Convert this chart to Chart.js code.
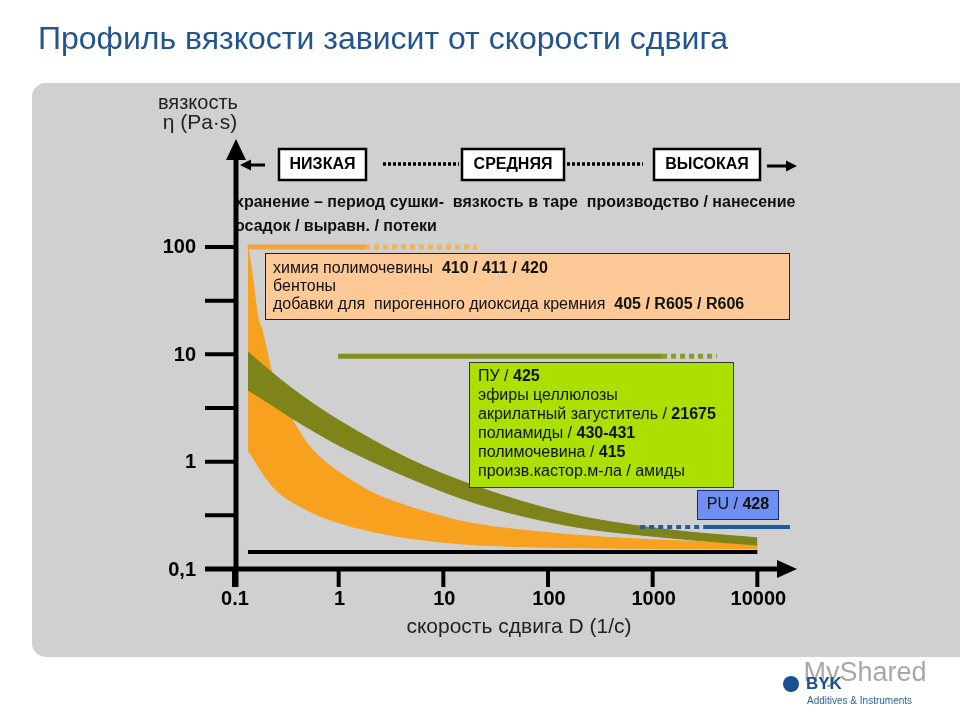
<!DOCTYPE html>
<html>
<head>
<meta charset="utf-8">
<script src="https://cdn.jsdelivr.net/npm/chart.js@4.4.0/dist/chart.umd.min.js"></script>
<style>
  html, body { margin: 0; padding: 0; background: #fff; }
  #wrap { position: relative; width: 960px; height: 720px; overflow: hidden; }
  #title { position: absolute; left: 38px; top: 20px; font: 32px "Liberation Sans", Arial, sans-serif; color: #22558f; white-space: nowrap; }
  canvas { position: absolute; left: 0; top: 0; }
</style>
</head>
<body>
<div id="wrap">
  <canvas id="canvas" width="960" height="720"></canvas>
  <div id="title">Профиль вязкости зависит от скорости сдвига</div>
</div>
<script>
var FONT = '"Liberation Sans", Arial, sans-serif';

// axes: shear rate D (1/s) and viscosity (Pa·s), both log
var xTicks = [0.1, 1, 10, 100, 1000, 10000];
var xTickLabels = ['0.1', '1', '10', '100', '1000', '10000'];
var yTicks = [0.1, 1, 10, 100];
var yTickLabels = ['0,1', '1', '10', '100'];
var yHalfTicks = [0.316, 3.16, 31.6];

// orange band (polyurea / bentone / fumed silica additives)
var orangeTopX = [0.136, 0.149, 0.170, 0.185, 0.231, 0.307, 0.498, 0.709, 1.03, 2.13, 4.50, 9.30, 20.1, 104.5, 314, 2835, 10000];
var orangeTopY = [102, 55, 21.8, 16.9, 6.70, 3.37, 1.49, 1.04, 0.784, 0.511, 0.386, 0.312, 0.263, 0.217, 0.199, 0.179, 0.171];
var orangeBottomX = [0.136, 0.236, 0.498, 1.03, 3.09, 9.30, 22.4, 314, 10000];
var orangeBottomY = [1.28, 0.581, 0.355, 0.268, 0.207, 0.179, 0.167, 0.157, 0.154];

// olive band (PU / cellulose / acrylic thickeners)
var oliveX = [0.136, 0.221, 0.343, 0.594, 1.03, 4.50, 20.1, 162, 1465, 10000];
var oliveTopY = [10.5, 7.0, 4.96, 3.37, 2.39, 1.08, 0.593, 0.325, 0.231, 0.195];
var oliveBottomY = [4.65, 3.45, 2.61, 1.89, 1.40, 0.720, 0.412, 0.252, 0.195, 0.167];

// working ranges: [start, end of solid/dotted part, end]
var orangeRangeX = [0.136, 1.79, 21];
var orangeRangeY = 100;
var oliveRangeX = [0.99, 1230, 4100];
var oliveRangeY = 9.6;
var blueRangeX = [760, 3380, 20500];   // dotted first, then solid
var blueRangeY = 0.246;
var baseX = [0.136, 10000];
var baseY = 0.144;

function toPoints(xs, ys) {
  return xs.map(function (x, i) { return { x: x, y: ys[i] }; });
}
function flat(xs, y) {
  return xs.map(function (x) { return { x: x, y: y }; });
}

function rich(ctx, x, y, parts, size) {
  parts.forEach(function (p) {
    ctx.font = (p[1] ? 'bold ' : '') + size + 'px ' + FONT;
    ctx.fillText(p[0], x, y);
    x += ctx.measureText(p[0]).width;
  });
}
function richWidth(ctx, parts, size) {
  var w = 0;
  parts.forEach(function (p) {
    ctx.font = (p[1] ? 'bold ' : '') + size + 'px ' + FONT;
    w += ctx.measureText(p[0]).width;
  });
  return w;
}

var panelPlugin = {
  id: 'panel',
  beforeDraw: function (chart) {
    var ctx = chart.ctx;
    ctx.save();
    ctx.fillStyle = '#d0d0d0';
    ctx.beginPath();
    ctx.roundRect(32, 83, 960, 574, 14);
    ctx.fill();
    ctx.restore();
  }
};

var decorPlugin = {
  id: 'decor',
  afterDatasetsDraw: function (chart) {
    var ctx = chart.ctx;
    var xs = chart.scales.x, ys = chart.scales.y;
    ctx.save();
    ctx.textBaseline = 'middle';

    // y title
    ctx.fillStyle = '#222';
    ctx.textAlign = 'center';
    ctx.font = '20px ' + FONT;
    ctx.fillText('вязкость', 198, 103);
    ctx.font = '21px ' + FONT;
    ctx.fillText('η (Pa·s)', 200, 123);

    // НИЗКАЯ ... СРЕДНЯЯ ... ВЫСОКАЯ
    var cats = [['НИЗКАЯ', 279, 87], ['СРЕДНЯЯ', 462, 102], ['ВЫСОКАЯ', 654, 106]];
    cats.forEach(function (c) {
      ctx.fillStyle = '#fff';
      ctx.fillRect(c[1], 149, c[2], 31);
      ctx.lineWidth = 2.5;
      ctx.strokeStyle = '#000';
      ctx.strokeRect(c[1], 149, c[2], 31);
      ctx.fillStyle = '#000';
      ctx.font = 'bold 16px ' + FONT;
      ctx.fillText(c[0], c[1] + c[2] / 2, 165);
    });
    ctx.strokeStyle = '#000';
    ctx.lineWidth = 3.5;
    ctx.setLineDash([3, 2]);
    ctx.beginPath();
    ctx.moveTo(383, 164); ctx.lineTo(459, 164);
    ctx.moveTo(567, 164); ctx.lineTo(643, 164);
    ctx.stroke();
    ctx.setLineDash([]);
    ctx.lineWidth = 3;
    ctx.beginPath();
    ctx.moveTo(265, 165); ctx.lineTo(248, 165);
    ctx.moveTo(767, 166); ctx.lineTo(788, 166);
    ctx.stroke();
    ctx.fillStyle = '#000';
    ctx.beginPath();
    ctx.moveTo(240, 165); ctx.lineTo(251, 159.5); ctx.lineTo(251, 170.5); ctx.closePath();
    ctx.moveTo(797, 166); ctx.lineTo(786, 160.5); ctx.lineTo(786, 171.5); ctx.closePath();
    ctx.fill();

    // phase captions
    ctx.textAlign = 'left';
    ctx.fillStyle = '#111';
    ctx.font = 'bold 16px ' + FONT;
    ctx.fillText('хранение – период сушки-  вязкость в таре  производство / нанесение', 235, 203);
    ctx.fillText('осадок / выравн. / потеки', 235, 227);

    // orange note
    ctx.fillStyle = '#fdc997';
    ctx.fillRect(265, 253, 525, 67);
    ctx.lineWidth = 1;
    ctx.strokeStyle = '#222';
    ctx.strokeRect(265.5, 253.5, 524, 66);
    ctx.fillStyle = '#111';
    var orangeNote = [
      [['химия полимочевины  ', 0], ['410 / 411 / 420', 1]],
      [['бентоны', 0]],
      [['добавки для  пирогенного диоксида кремния  ', 0], ['405 / R605 / R606', 1]]
    ];
    orangeNote.forEach(function (l, i) { rich(ctx, 273, 269 + i * 18, l, 16); });

    // green note
    ctx.fillStyle = '#abe000';
    ctx.fillRect(469, 362, 265, 126);
    ctx.strokeStyle = '#333';
    ctx.strokeRect(469.5, 362.5, 264, 125);
    ctx.fillStyle = '#111';
    var greenNote = [
      [['ПУ / ', 0], ['425', 1]],
      [['эфиры целлюлозы', 0]],
      [['акрилатный загуститель / ', 0], ['21675', 1]],
      [['полиамиды / ', 0], ['430-431', 1]],
      [['полимочевина / ', 0], ['415', 1]],
      [['произв.кастор.м-ла / амиды', 0]]
    ];
    greenNote.forEach(function (l, i) { rich(ctx, 478, 377 + i * 19, l, 16); });

    // blue note
    ctx.fillStyle = '#6f8ff3';
    ctx.fillRect(697, 490, 82, 30);
    ctx.strokeStyle = '#1a2a6a';
    ctx.strokeRect(697.5, 490.5, 81, 29);
    ctx.fillStyle = '#111';
    var blueNote = [['PU / ', 0], ['428', 1]];
    rich(ctx, 738 - richWidth(ctx, blueNote, 16) / 2, 505, blueNote, 16);

    // axes with arrows
    var ax = xs.getPixelForValue(0.1) + 2;
    var ay = ys.getPixelForValue(0.1);
    ctx.strokeStyle = '#000';
    ctx.fillStyle = '#000';
    ctx.lineWidth = 5;
    ctx.beginPath();
    ctx.moveTo(ax, 587); ctx.lineTo(ax, 156);
    ctx.moveTo(205, ay); ctx.lineTo(780, ay);
    ctx.stroke();
    ctx.beginPath();
    ctx.moveTo(ax, 139); ctx.lineTo(ax - 10, 160); ctx.lineTo(ax + 10, 160); ctx.closePath();
    ctx.moveTo(797, ay); ctx.lineTo(777, ay - 9); ctx.lineTo(777, ay + 9); ctx.closePath();
    ctx.fill();

    ctx.lineWidth = 4;
    ctx.beginPath();
    xTicks.forEach(function (v) {
      var px = xs.getPixelForValue(v);
      ctx.moveTo(px, ay); ctx.lineTo(px, 587);
    });
    yTicks.concat(yHalfTicks).forEach(function (v) {
      var py = ys.getPixelForValue(v);
      ctx.moveTo(205, py); ctx.lineTo(ax, py);
    });
    ctx.stroke();

    ctx.font = 'bold 20px ' + FONT;
    ctx.textAlign = 'center';
    xTicks.forEach(function (v, i) {
      ctx.fillText(xTickLabels[i], xs.getPixelForValue(v) + 1, 599);
    });
    ctx.textAlign = 'right';
    yTicks.forEach(function (v, i) {
      ctx.fillText(yTickLabels[i], 196, ys.getPixelForValue(v) + 1);
    });

    ctx.fillStyle = '#222';
    ctx.textAlign = 'center';
    ctx.font = '21px ' + FONT;
    ctx.fillText('скорость сдвига D (1/с)', 519, 627);

    // logo
    ctx.fillStyle = 'rgba(80,80,80,0.5)';
    ctx.font = '27px ' + FONT;
    ctx.fillText('MyShared', 865, 674);
    ctx.fillStyle = '#1b4f94';
    ctx.beginPath();
    ctx.arc(791, 684, 8, 0, Math.PI * 2);
    ctx.fill();
    ctx.textAlign = 'left';
    ctx.font = 'bold 17px ' + FONT;
    ctx.fillText('BYK', 806, 684);
    ctx.fillStyle = '#2f62a3';
    ctx.font = '10px ' + FONT;
    ctx.fillText('Additives & Instruments', 807, 701);
    ctx.restore();
  }
};

var ORANGE = '#f7a11e';
var OLIVE = '#7e8419';

var datasets = [
  { data: toPoints(orangeTopX, orangeTopY), borderColor: ORANGE, backgroundColor: ORANGE, borderWidth: 1, fill: '+1', order: 5 },
  { data: toPoints(orangeBottomX, orangeBottomY), borderColor: ORANGE, borderWidth: 1, fill: false, order: 5 },
  { data: toPoints(oliveX, oliveTopY), borderColor: OLIVE, backgroundColor: OLIVE, borderWidth: 1, fill: '+1', order: 4 },
  { data: toPoints(oliveX, oliveBottomY), borderColor: OLIVE, borderWidth: 1, fill: false, order: 4 },
  { data: flat(orangeRangeX.slice(0, 2), orangeRangeY), borderColor: '#f0a53c', borderWidth: 5, fill: false, order: 3 },
  { data: flat(orangeRangeX.slice(1), orangeRangeY), borderColor: '#f2b452', borderWidth: 5, borderDash: [5, 4], fill: false, order: 3 },
  { data: flat(oliveRangeX.slice(0, 2), oliveRangeY), borderColor: '#84901f', borderWidth: 5, fill: false, order: 3 },
  { data: flat(oliveRangeX.slice(1), oliveRangeY), borderColor: '#8f9a2c', borderWidth: 5, borderDash: [5, 4], fill: false, order: 3 },
  { data: flat(blueRangeX.slice(0, 2), blueRangeY), borderColor: '#1d5aa0', borderWidth: 4, borderDash: [5, 4], fill: false, order: 3 },
  { data: flat(blueRangeX.slice(1), blueRangeY), borderColor: '#1d5aa0', borderWidth: 4, fill: false, order: 3 },
  { data: flat(baseX, baseY), borderColor: '#000', borderWidth: 4, fill: false, order: 2 }
];

var ctx = document.getElementById('canvas').getContext('2d');
var chart = new Chart(ctx, {
  type: 'line',
  data: { datasets: datasets },
  options: {
    responsive: false,
    animation: false,
    events: [],
    layout: { padding: { left: 234, right: 165, top: 145, bottom: 151 } },
    elements: {
      point: { radius: 0 },
      line: { cubicInterpolationMode: 'monotone' }
    },
    scales: {
      x: { type: 'logarithmic', min: 0.1, max: 22900, display: false },
      y: { type: 'logarithmic', min: 0.1, max: 890, display: false }
    },
    plugins: {
      legend: { display: false },
      tooltip: { enabled: false }
    }
  },
  plugins: [panelPlugin, decorPlugin]
});
</script>
</body>
</html>
